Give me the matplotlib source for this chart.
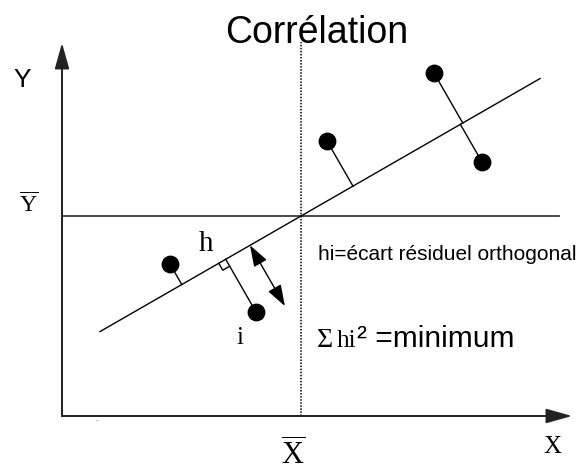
#import numpy and matplotlib
import numpy as np
import matplotlib.pyplot as plt

#fonts: Arial-like for the labels, Times-like for the math letters
plt.rcParams['font.family'] = 'Liberation Sans'
plt.rcParams['mathtext.fontset'] = 'custom'
plt.rcParams['mathtext.rm'] = 'Liberation Serif'

#the observed points (x, y)
pts_x = [37.2, 42.0, 26.5, 10.8, 19.4]
pts_y = [34.3, 25.4, 27.5, 15.2, 10.4]
#centre of the cloud (X bar, Y bar) and slope of the fitted line
x_mean = 23.9
y_mean = 20.0
slope = 0.575
#x range over which the fitted line is drawn
line_x = [3.8, 47.8]
#point that gets the right angle marker and the h label
marked = 4

#texts
title = 'Corrélation'
note = 'hi=écart résiduel orthogonal'
crit = '=minimum'

#figure with one axes covering everything, 10 px per unit both ways
fig = plt.figure(figsize=(5.76, 4.73), dpi=100)
ax = fig.add_axes([0, 0, 1, 1])
ax.set_xlim(-6.2, 51.4)
ax.set_ylim(-5.7, 41.6)
ax.axis('off')

axis_col = '#3a3a3a'

#function to draw an arrow between two points
def arrow(p0, p1, style, col, lw, hl, hw):
    ax.annotate('', xy=p1, xytext=p0,
                arrowprops=dict(arrowstyle='%s,head_length=%g,head_width=%g' % (style, hl, hw),
                                color=col, lw=lw, shrinkA=0, shrinkB=0,
                                mutation_scale=1))

#the X and Y axes with arrow heads
arrow((0, 0), (51.0, 0), '-|>', '#222222', 1.3, 16, 4.5)
arrow((0, 0), (0, 37.3), '-|>', '#222222', 1.3, 16, 4.5)
#redraw the axis lines a bit lighter
ax.plot([0, 49.0], [0, 0], color=axis_col, lw=1.3)
ax.plot([0, 0], [0, 35.5], color=axis_col, lw=1.3)

#horizontal line at Y bar and dotted vertical line at X bar
ax.plot([0, 49.7], [y_mean, y_mean], color=axis_col, lw=1.3)
ax.plot([x_mean, x_mean], [0, 37.4], color='black', lw=1.1, linestyle=(0, (1, 1)))

#fitted line through the centre
lx = np.array(line_x)
ax.plot(lx, y_mean + slope * (lx - x_mean), color='black', lw=1.0)

#unit vector along the line and normal to it
u = np.array([1.0, slope]) / np.hypot(1.0, slope)
n = np.array([-u[1], u[0]])
c = np.array([x_mean, y_mean])

#orthogonal residual from every point to the line
feet = []
for px, py in zip(pts_x, pts_y):
    p = np.array([px, py])
    f = c + np.dot(p - c, u) * u
    feet.append(f)
    ax.plot([px, f[0]], [py, f[1]], color='black', lw=1.0)

#right angle marker on one residual
f = feet[marked]
d = np.array([pts_x[marked], pts_y[marked]]) - f
d = d / np.hypot(d[0], d[1])
s = 0.8
sq = np.array([f, f - u * s, f - u * s + d * s, f + d * s])
ax.plot(sq[1:, 0], sq[1:, 1], color='black', lw=1.0)

#double arrow showing the distance h
a0 = c + (18.8 - x_mean) / u[0] * u
a1 = a0 - n * 7.0
arrow(a0, a1, '<|-|>', 'black', 1.0, 13, 4.5)

#the points
ax.scatter(pts_x, pts_y, s=140, color='black', zorder=3)

#labels
ax.text(25.5, 37.3, title, fontsize=27, ha='center', va='baseline')
ax.text(-4.0, 32.9, 'Y', fontsize=19, ha='center', va='baseline')
ax.text(-3.3, 20.4, r'$\overline{\mathrm{Y}}$', fontsize=17, ha='center', va='baseline')
ax.text(49.0, -3.7, 'X', fontsize=18, ha='center', va='baseline', family='Liberation Serif')
ax.text(23.15, -5.6, r'$\overline{\mathrm{X}}$', fontsize=22, ha='center', va='bottom')
ax.text(14.35, 16.5, 'h', fontsize=21, ha='center', va='baseline', family='Liberation Serif')
ax.text(17.8, 7.2, 'i', fontsize=18, ha='center', va='baseline', family='Liberation Serif')
ax.text(25.6, 15.6, note, fontsize=15, ha='left', va='baseline')
ax.text(25.5, 6.9, 'Σ', fontsize=20, ha='left', va='baseline', family='Liberation Serif')
ax.text(27.5, 6.9, 'hi', fontsize=18, ha='left', va='baseline', family='Liberation Serif')
ax.text(29.5, 6.9, '² ' + crit, fontsize=21.5, ha='left', va='baseline')
#small stray tick under the x axis
ax.text(3.5, -0.5, '-', fontsize=6, ha='center', va='center', color='gray')

#save the graph
fig.savefig('out.png', dpi=100)
